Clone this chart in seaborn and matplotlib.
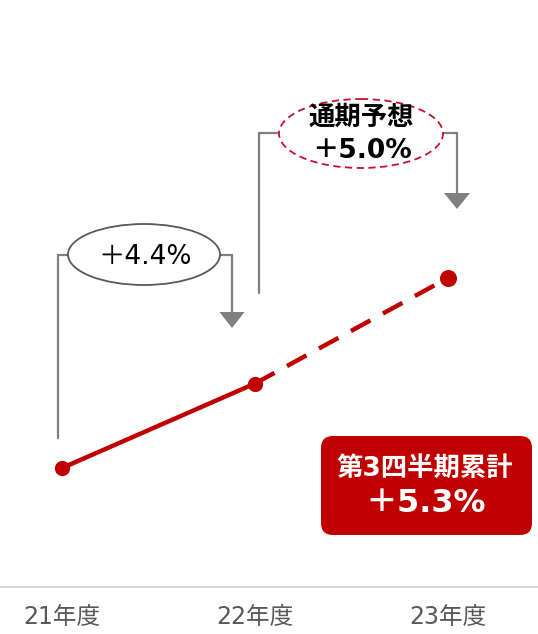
import matplotlib
matplotlib.use("Agg")
import matplotlib.pyplot as plt
from matplotlib.patches import Ellipse, FancyBboxPatch, Polygon
import seaborn as sns
import pandas as pd

categories = ["21年度", "22年度", "23年度"]
index_values = [100.0, 104.4, 109.9]
growth_labels = ["＋4.4%", "＋5.0%"]
forecast_title = "通期予想"
box_title = "第3四半期累計"
box_value = "＋5.3%"

sns.set_theme(style="white")
plt.rcParams["font.family"] = ["DejaVu Sans", "Noto Sans CJK JP"]

W, H = 538, 634
fig = plt.figure(figsize=(W / 100, H / 100), dpi=100)

# main data axes
ax = fig.add_axes([0, (H - 587) / H, 1, 587 / H])
df = pd.DataFrame({"x": range(len(categories)), "y": index_values})
red = "#c00000"
sns.lineplot(data=df.iloc[:2], x="x", y="y", ax=ax, color=red, linewidth=3.2)
sns.lineplot(data=df.iloc[1:], x="x", y="y", ax=ax, color=red, linewidth=3.2,
             dashes=False, linestyle=(0, (5, 3.2)))
ax.scatter(df["x"][:2], df["y"][:2], s=120, color=red, zorder=5, linewidths=0)
ax.scatter(df["x"][2:], df["y"][2:], s=150, color=red, zorder=5, linewidths=0)

ax.set_xlim(-62 / 193, (W - 62) / 193)
ax.set_ylim(100 - (587 - 468) / 19.2, 100 + 468 / 19.2)
ax.set_xticks(range(len(categories)))
ax.set_xticklabels(categories, fontsize=17, color="#595959")
ax.set_yticks([])
ax.set_xlabel("")
ax.set_ylabel("")
for s in ["top", "left", "right"]:
    ax.spines[s].set_visible(False)
ax.spines["bottom"].set_color("#d9d9d9")
ax.spines["bottom"].set_linewidth(1.5)
ax.tick_params(axis="x", length=0, pad=13)
ax.patch.set_alpha(0)

# overlay annotation axes in pixel space
ov = fig.add_axes([0, 0, 1, 1])
ov.set_xlim(0, W)
ov.set_ylim(H, 0)
ov.axis("off")
ov.patch.set_alpha(0)

gray = "#808080"

def bracket(x0, ybot, ytop, x1, yarrow, hw=12.5, hh=16):
    ov.plot([x0, x0, x1, x1], [ybot, ytop, ytop, yarrow - hh], color=gray, lw=1.6,
            solid_joinstyle="miter")
    ov.add_patch(Polygon([[x1 - hw, yarrow - hh], [x1 + hw, yarrow - hh], [x1, yarrow]],
                         closed=True, color=gray, lw=0))

bracket(58, 438, 255, 232, 328)
bracket(259, 293, 133, 457, 209, hw=13)

ov.add_patch(Ellipse((144, 254.5), 152, 61, facecolor="white", edgecolor="#595959", lw=1.3,
                     zorder=3))
ov.text(145, 257, growth_labels[0], ha="center", va="center", fontsize=19, color="black",
        zorder=4)

ov.add_patch(Ellipse((361, 133.5), 164, 69, facecolor="white", edgecolor="#c8102e", lw=1.3,
                     linestyle=(0, (4, 2.5)), zorder=3))
ov.text(361, 118, forecast_title, ha="center", va="center", fontsize=19, fontweight="bold",
        color="black", zorder=4)
ov.text(362, 151, growth_labels[1], ha="center", va="center", fontsize=19, fontweight="bold",
        color="black", zorder=4)

ov.add_patch(FancyBboxPatch((321 + 12, 436 + 12), 211 - 24, 99 - 24,
                            boxstyle="round,pad=12", facecolor=red, edgecolor="none",
                            zorder=3))
ov.text(425, 469, box_title, ha="center", va="center", fontsize=19, fontweight="bold",
        color="white", zorder=4)
ov.text(426, 504, box_value, ha="center", va="center", fontsize=23, fontweight="bold",
        color="white", zorder=4)

fig.savefig("out.png", dpi=100, facecolor="white")
